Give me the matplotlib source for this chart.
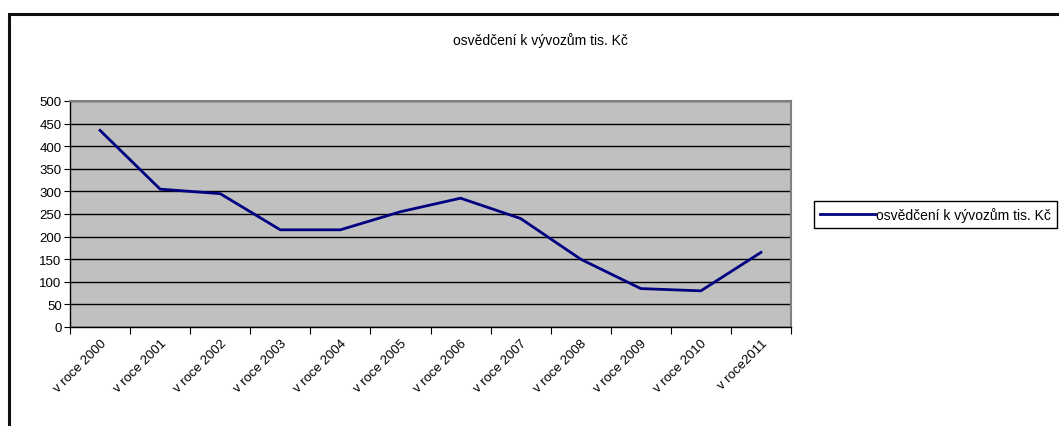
import matplotlib.pyplot as plt
from matplotlib.patches import Rectangle

plt.rcParams['font.family'] = ['Liberation Sans', 'DejaVu Sans']

# data
years = ['v roce 2000', 'v roce 2001', 'v roce 2002', 'v roce 2003', 'v roce 2004',
         'v roce 2005', 'v roce 2006', 'v roce 2007', 'v roce 2008', 'v roce 2009',
         'v roce 2010', 'v roce2011']
values = [435, 305, 295, 215, 215, 255, 285, 240, 150, 85, 80, 165]
series_name = 'osvědčení k vývozům tis. Kč'
y_ticks = [0, 50, 100, 150, 200, 250, 300, 350, 400, 450, 500]

W, H = 1059, 427
fig = plt.figure(figsize=(W / 100, H / 100), dpi=100)
fig.patch.set_facecolor('white')

# outer chart border (only left and top edges visible)
fig.patches.append(Rectangle((9 / W, -0.1), 1.2, (H - 15) / H + 0.1,
                             transform=fig.transFigure, fill=False,
                             edgecolor='#111111', linewidth=2.2))

ax = fig.add_axes([70 / W, (H - 328) / H, 721 / W, 226 / H])
ax.set_facecolor('#C0C0C0')

x = list(range(len(years)))
ax.plot(x, values, color='#000080', linewidth=2, label=series_name, zorder=3)

ax.set_xlim(-0.5, len(years) - 0.5)
ax.set_ylim(0, 500)
ax.set_yticks(y_ticks)
ax.set_yticklabels([str(v) for v in y_ticks], fontsize=9.5)
ax.yaxis.grid(True, color='black', linewidth=1)
ax.set_axisbelow(True)

# category boundaries as tick marks, labels at category centers
ax.set_xticks([i - 0.5 for i in range(len(years) + 1)])
ax.set_xticklabels([])
ax.set_xticks(x, minor=True)
ax.set_xticklabels(years, minor=True, rotation=45, ha='right', va='top',
                   rotation_mode='anchor', fontsize=9.5)
ax.tick_params(axis='x', which='minor', length=0, pad=7)
ax.tick_params(axis='x', which='major', length=5, direction='out', color='black')
ax.tick_params(axis='y', length=4, direction='out', color='black', pad=2)

for side in ['left', 'bottom']:
    ax.spines[side].set_color('black')
    ax.spines[side].set_linewidth(1)
for side in ['top', 'right']:
    ax.spines[side].set_color('#808080')
    ax.spines[side].set_linewidth(1.5)

fig.text(540 / W, 1 - 41 / H, series_name, ha='center', va='center', fontsize=10)

leg = ax.legend(loc='center left', bbox_to_anchor=(814 / W, 1 - 215.5 / H),
                bbox_transform=fig.transFigure, fontsize=10, fancybox=False,
                framealpha=1, edgecolor='black', handlelength=4.0,
                handletextpad=0.1, borderpad=0.4, borderaxespad=0)
leg.get_frame().set_linewidth(1)

fig.savefig('out.png', dpi=100)
